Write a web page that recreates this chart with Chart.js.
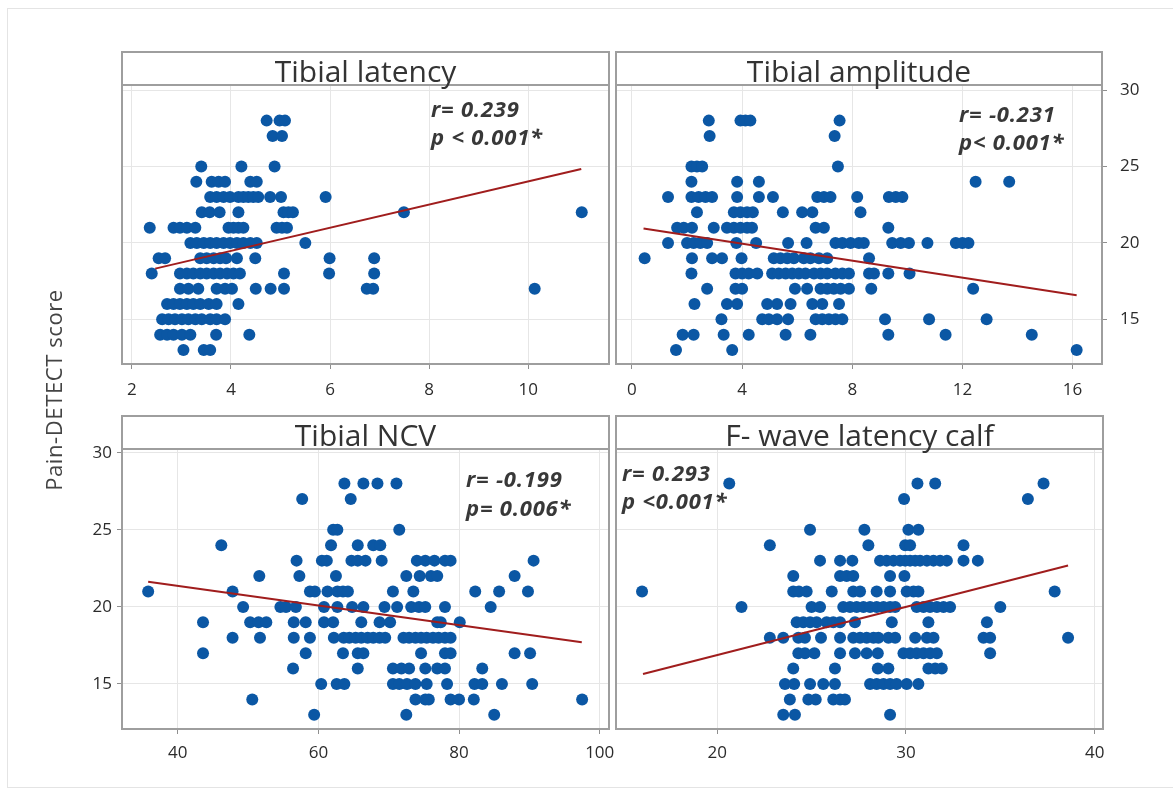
<!DOCTYPE html>
<html>
<head>
<meta charset="utf-8">
<title>Pain-DETECT score vs tibial nerve conduction</title>
<script src="https://cdn.jsdelivr.net/npm/chart.js@4.4.1/dist/chart.umd.min.js"></script>
<style>
  html, body { margin: 0; padding: 0; background: #fff; }
  #page { position: relative; width: 1173px; height: 789px; overflow: hidden; }
  #frame { position: absolute; left: 7px; top: 8px; width: 1180px; height: 778px; border: 1px solid #e4e4e4; }
  canvas { position: absolute; left: 0; top: 0; }
</style>
</head>
<body>
<div id="page">
  <div id="frame"></div>
  <canvas id="c-latency" width="1173" height="789"></canvas>
  <canvas id="c-amplitude" width="1173" height="789"></canvas>
  <canvas id="c-ncv" width="1173" height="789"></canvas>
  <canvas id="c-fwave" width="1173" height="789"></canvas>
</div>
<script>
// Pain-DETECT score against four tibial nerve measures, 2x2 panels

// shared y (Pain-DETECT score)
const scoreTicks = [15, 20, 25, 30];

// each row: [score, [x values at that score]]
const latencyRows = [
  [28, [4.72, 4.98, 5.09]],
  [27, [4.84, 5.03]],
  [25, [3.40, 4.21, 4.88]],
  [24, [3.30, 3.61, 3.75, 3.88, 4.39, 4.52]],
  [23, [3.58, 3.71, 3.85, 3.98, 4.15, 4.25, 4.35, 4.45, 4.55, 4.79, 5.01, 5.91]],
  [22, [3.41, 3.57, 3.77, 4.15, 5.06, 5.16, 5.25, 7.49, 11.08]],
  [21, [2.36, 2.84, 2.97, 3.11, 3.28, 3.95, 4.05, 4.15, 4.25, 4.92, 5.03, 5.13]],
  [20, [3.18, 3.31, 3.45, 3.58, 3.71, 3.85, 3.98, 4.12, 4.25, 4.39, 4.52, 5.50]],
  [19, [2.54, 2.67, 3.38, 3.51, 3.65, 3.78, 3.90, 4.12, 4.49, 5.99, 6.89]],
  [18, [2.40, 2.97, 3.11, 3.24, 3.38, 3.51, 3.65, 3.78, 3.92, 4.05, 4.18, 5.07, 5.98, 6.89]],
  [17, [2.97, 3.14, 3.34, 3.71, 3.88, 4.02, 4.50, 4.80, 5.07, 6.74, 6.87, 10.13]],
  [16, [2.71, 2.84, 2.97, 3.11, 3.24, 3.38, 3.55, 3.71, 4.15]],
  [15, [2.61, 2.74, 2.87, 3.01, 3.14, 3.28, 3.41, 3.58, 3.71, 3.88]],
  [14, [2.57, 2.71, 2.84, 3.01, 3.18, 3.70, 4.37]],
  [13, [3.04, 3.45, 3.58]],
];
const latencyTicks = [2, 4, 6, 8, 10];
const latencyFitX = [2.47, 11.07];
const latencyFitY = [18.32, 24.83];

const amplitudeRows = [
  [28, [2.79, 3.94, 4.12, 4.30, 7.54]],
  [27, [2.82, 7.36]],
  [25, [2.16, 2.36, 2.55, 7.48]],
  [24, [2.16, 3.82, 4.61, 12.48, 13.70]],
  [23, [1.31, 2.16, 2.42, 2.67, 2.91, 3.82, 4.61, 5.12, 6.73, 6.97, 7.21, 8.18, 9.33, 9.58, 9.82]],
  [22, [2.36, 3.70, 3.94, 4.18, 4.39, 5.48, 6.18, 6.55, 8.30]],
  [21, [1.64, 1.88, 2.18, 2.97, 3.45, 3.70, 3.94, 4.18, 4.36, 6.67, 6.97, 9.31]],
  [20, [1.31, 2.00, 2.24, 2.48, 2.73, 3.79, 4.51, 5.67, 6.34, 7.39, 7.64, 7.94, 8.24, 8.42, 9.45, 9.76, 10.06, 10.73, 11.76, 12.00, 12.22]],
  [19, [0.46, 2.18, 2.91, 3.27, 3.98, 5.15, 5.39, 5.64, 5.88, 6.24, 6.48, 6.79, 7.09, 8.61]],
  [18, [2.16, 3.76, 4.00, 4.24, 4.55, 5.09, 5.33, 5.58, 5.82, 6.06, 6.30, 6.61, 6.85, 7.09, 7.39, 7.64, 7.88, 8.61, 8.79, 9.31, 10.08]],
  [17, [2.73, 3.76, 4.00, 5.92, 6.36, 6.85, 7.09, 7.33, 7.58, 7.88, 8.69, 12.39]],
  [16, [2.27, 3.45, 3.82, 4.91, 5.27, 5.76, 6.55, 6.91, 7.52]],
  [15, [3.25, 4.73, 4.97, 5.27, 5.67, 6.67, 6.91, 7.15, 7.39, 7.64, 9.19, 10.79, 12.88]],
  [14, [1.84, 2.24, 3.33, 4.24, 5.58, 6.48, 9.31, 11.39, 14.52]],
  [13, [1.60, 3.64, 16.15]],
];
const amplitudeTicks = [0, 4, 8, 12, 16];
const amplitudeFitX = [0.42, 16.15];
const amplitudeFitY = [20.94, 16.58];

const ncvRows = [
  [28, [63.7, 66.4, 68.4, 71.1]],
  [27, [57.7, 64.6]],
  [25, [62.1, 62.7, 71.5]],
  [24, [46.2, 61.8, 65.6, 67.8, 68.8]],
  [23, [56.9, 60.5, 61.2, 64.7, 65.6, 66.7, 69.0, 74.0, 75.2, 76.5, 78.0, 78.8, 90.6]],
  [22, [51.6, 57.3, 62.5, 72.5, 74.4, 76.0, 76.9, 87.9]],
  [21, [35.8, 47.8, 58.8, 59.5, 61.3, 62.7, 63.5, 64.2, 70.6, 73.5, 82.3, 85.7, 89.8]],
  [20, [49.3, 54.6, 55.4, 56.8, 60.8, 62.7, 64.8, 66.4, 69.4, 71.2, 73.2, 74.3, 75.2, 78.0, 84.5]],
  [19, [43.6, 50.3, 51.5, 52.6, 56.5, 58.2, 60.8, 62.1, 66.1, 68.7, 70.2, 76.9, 77.4, 80.1]],
  [18, [47.8, 51.7, 56.5, 58.8, 62.2, 63.6, 64.4, 65.3, 66.1, 67.0, 67.8, 68.7, 69.5, 72.1, 72.9, 73.8, 74.6, 75.4, 76.3, 77.1, 78.0, 78.8]],
  [17, [43.6, 58.2, 63.5, 65.6, 66.4, 74.6, 78.0, 78.8, 87.9, 90.1]],
  [16, [56.4, 65.6, 70.6, 71.8, 72.9, 75.2, 76.9, 78.0, 83.3]],
  [15, [60.4, 62.6, 63.7, 70.6, 71.5, 72.6, 73.8, 75.4, 78.3, 82.2, 83.3, 86.1, 90.4]],
  [14, [50.6, 73.8, 75.2, 75.7, 78.8, 80.0, 82.1, 97.5]],
  [13, [59.4, 72.5, 85.0]],
];
const ncvTicks = [40, 60, 80, 100];
const ncvFitX = [35.8, 97.45];
const ncvFitY = [21.63, 17.70];

const fwaveRows = [
  [28, [20.64, 30.61, 31.55, 37.29]],
  [27, [29.90, 36.46]],
  [25, [24.92, 27.80, 30.13, 30.66]],
  [24, [22.79, 28.01, 29.96, 30.22, 33.05]],
  [23, [25.45, 26.51, 27.16, 28.63, 28.98, 29.34, 29.69, 29.96, 30.22, 30.49, 30.75, 31.11, 31.46, 31.81, 32.17, 33.05, 33.81]],
  [22, [24.03, 26.51, 26.86, 27.21, 29.16, 29.92]],
  [21, [16.02, 24.03, 24.33, 24.74, 26.07, 27.21, 27.57, 28.45, 29.16, 30.04, 30.40, 30.66, 37.88]],
  [20, [21.29, 25.00, 25.45, 26.68, 27.04, 27.39, 27.75, 28.10, 28.45, 28.81, 29.16, 29.43, 30.57, 30.93, 31.28, 31.64, 31.99, 32.34, 35.00]],
  [19, [24.21, 24.56, 24.92, 25.27, 25.80, 26.15, 26.51, 27.30, 29.25, 31.19, 34.29]],
  [18, [22.79, 23.50, 24.30, 24.65, 25.50, 26.51, 27.21, 27.57, 27.92, 28.28, 28.54, 29.07, 29.43, 30.49, 31.11, 31.46, 34.11, 34.46, 38.59]],
  [17, [24.30, 24.65, 25.15, 26.51, 27.30, 27.92, 28.51, 29.87, 30.22, 30.57, 30.93, 31.28, 31.64, 34.46]],
  [16, [24.03, 26.24, 28.51, 29.07, 31.19, 31.55, 31.90]],
  [15, [23.59, 24.08, 24.92, 25.62, 26.24, 28.10, 28.45, 28.81, 29.16, 29.51, 30.04, 30.66]],
  [14, [23.85, 24.83, 25.22, 26.15, 26.51, 26.77]],
  [13, [23.50, 24.12, 29.16]],
];
const fwaveTicks = [20, 30, 40];
const fwaveFitX = [16.07, 38.59];
const fwaveFitY = [15.65, 22.68];

const FONT = '"Open Sans", "Noto Sans", sans-serif';
const W = 1173, H = 789;
const DOT = '#0b57a4';
const FIT = '#a01d1d';
const FRAME = '#9e9e9e';
const GRID = '#e6e6e6';

/**
 * Draws the strip header, panel frame and r/p notes around the chart area.
 */
function decorPlugin(p) {
  return {
    id: 'panelDecor',
    afterDraw(chart) {
      const { ctx, chartArea: a } = chart;
      ctx.save();
      ctx.strokeStyle = FRAME;
      ctx.lineWidth = 2;
      ctx.strokeRect(a.left, p.stripTop, a.right - a.left, a.bottom - p.stripTop);
      ctx.beginPath();
      ctx.moveTo(a.left, a.top);
      ctx.lineTo(a.right, a.top);
      ctx.stroke();

      ctx.fillStyle = '#333';
      ctx.font = '30px ' + FONT;
      ctx.textAlign = 'center';
      ctx.textBaseline = 'alphabetic';
      ctx.fillText(p.title, (a.left + a.right) / 2, p.titleBase);

      ctx.font = 'italic bold 22px ' + FONT;
      ctx.letterSpacing = '0.8px';
      ctx.textAlign = 'left';
      ctx.fillStyle = '#383838';
      p.notes.forEach((t, i) => ctx.fillText(t, p.noteX, p.noteBase[i]));
      ctx.letterSpacing = '0px';

      if (p.yTitle) {
        ctx.translate(56, 390);
        ctx.rotate(-Math.PI / 2);
        ctx.textAlign = 'center';
        ctx.textBaseline = 'middle';
        ctx.font = '22px ' + FONT;
        ctx.letterSpacing = '0.6px';
        ctx.fillStyle = '#444';
        ctx.fillText(p.yTitle, 0, 0);
      }
      ctx.restore();
    }
  };
}

function makePanel(canvasId, p) {
  const points = [];
  p.rows.forEach(([score, xs]) => xs.forEach(x => points.push({ x, y: score })));
  const fit = p.fitX.map((x, i) => ({ x, y: p.fitY[i] }));

  const yRight = p.yAxis === 'right';
  const yW = p.yAxis ? 60 : 0;
  const xH = 40;
  const padding = {
    top: p.area.top,
    bottom: H - p.area.bottom - xH,
    left: yRight ? p.area.left : p.area.left - yW,
    right: yRight ? W - p.area.right - yW : W - p.area.right,
  };
  const tickFont = { family: FONT, size: 17 };

  return new Chart(document.getElementById(canvasId), {
    type: 'scatter',
    data: {
      datasets: [
        {
          data: points,
          backgroundColor: DOT,
          borderWidth: 0,
          pointRadius: 6,
          pointHoverRadius: 6,
          order: 2,
        },
        {
          type: 'line',
          data: fit,
          borderColor: FIT,
          borderWidth: 2,
          pointRadius: 0,
          fill: false,
          order: 1,
        },
      ],
    },
    options: {
      responsive: false,
      animation: false,
      events: [],
      layout: { padding },
      plugins: { legend: { display: false }, tooltip: { enabled: false } },
      scales: {
        x: {
          type: 'linear',
          position: 'bottom',
          min: p.xMin,
          max: p.xMax,
          afterBuildTicks: s => { s.ticks = p.xTicks.map(v => ({ value: v })); },
          afterFit: s => { s.height = xH; },
          grid: { color: GRID, tickColor: '#8f8f8f', tickLength: 5 },
          border: { display: false },
          ticks: { font: tickFont, color: '#2b2b2b', padding: p.xPad, maxRotation: 0, autoSkip: false },
        },
        y: {
          type: 'linear',
          position: yRight ? 'right' : 'left',
          min: p.yMin,
          max: p.yMax,
          afterBuildTicks: s => { s.ticks = scoreTicks.map(v => ({ value: v })); },
          afterFit: s => { s.width = yW; },
          grid: { color: GRID, tickColor: '#8f8f8f', tickLength: 5, drawTicks: !!p.yAxis },
          border: { display: false },
          ticks: { display: !!p.yAxis, font: tickFont, color: '#2b2b2b', padding: p.yPad || 4 },
        },
      },
    },
    plugins: [decorPlugin(p)],
  });
}

makePanel('c-latency', {
  rows: latencyRows, fitX: latencyFitX, fitY: latencyFitY, xTicks: latencyTicks,
  area: { left: 122, right: 609, top: 85, bottom: 364 },
  xMin: 1.80, xMax: 11.63, yMin: 12.08, yMax: 30.33, xPad: 11,
  stripTop: 52, title: 'Tibial latency', titleBase: 82,
  notes: ['r= 0.239', 'p < 0.001*'], noteX: 431, noteBase: [117, 145],
});

makePanel('c-amplitude', {
  rows: amplitudeRows, fitX: amplitudeFitX, fitY: amplitudeFitY, xTicks: amplitudeTicks,
  area: { left: 616, right: 1102, top: 85, bottom: 364 },
  xMin: -0.58, xMax: 17.07, yMin: 12.08, yMax: 30.33, xPad: 11,
  yAxis: 'right', yPad: 13,
  stripTop: 52, title: 'Tibial amplitude', titleBase: 82,
  notes: ['r= -0.231', 'p< 0.001*'], noteX: 959, noteBase: [122, 150],
});

makePanel('c-ncv', {
  rows: ncvRows, fitX: ncvFitX, fitY: ncvFitY, xTicks: ncvTicks,
  area: { left: 122, right: 609, top: 449, bottom: 729 },
  xMin: 32.08, xMax: 101.32, yMin: 12.08, yMax: 30.24, xPad: 9,
  yAxis: 'left', yPad: 5,
  stripTop: 416, title: 'Tibial NCV', titleBase: 446,
  notes: ['r= -0.199', 'p= 0.006*'], noteX: 466, noteBase: [487, 516],
  yTitle: 'Pain-DETECT score',
});

makePanel('c-fwave', {
  rows: fwaveRows, fitX: fwaveFitX, fitY: fwaveFitY, xTicks: fwaveTicks,
  area: { left: 616, right: 1103, top: 449, bottom: 729 },
  xMin: 14.64, xMax: 40.44, yMin: 12.08, yMax: 30.24, xPad: 9,
  stripTop: 416, title: 'F- wave latency calf', titleBase: 446,
  notes: ['r= 0.293', 'p <0.001*'], noteX: 622, noteBase: [481, 509],
});
</script>
</body>
</html>
